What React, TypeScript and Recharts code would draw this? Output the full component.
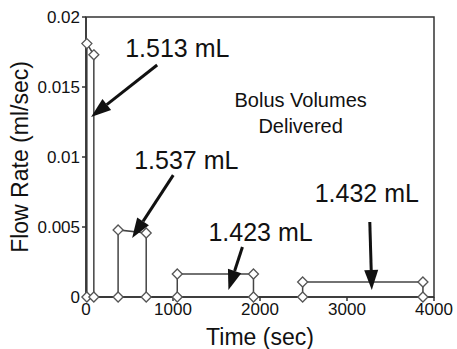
import {
  LineChart,
  Line,
  XAxis,
  YAxis,
  ReferenceArea,
  ReferenceLine,
  ReferenceDot,
} from "recharts";

const times = [10, 10, 90, 90, 369, 369, 692, 692, 1049, 1049, 1925, 1925, 2490, 2490, 3873, 3873];
const flows = [0, 0.0181, 0.0173, 0, 0, 0.00479, 0.00457, 0, 0, 0.00164, 0.00164, 0, 0, 0.00107, 0.00107, 0];

const xTicks = [0, 1000, 2000, 3000, 4000];
const yTicks = [0, 0.005, 0.01, 0.015, 0.02];

// label text position (data coords) and arrow start/end
const labels = ["1.513 mL", "1.537 mL", "1.423 mL", "1.432 mL"];
const labelX = [1049, 1153, 2006, 3228];
const labelY = [0.01779, 0.00979, 0.00464, 0.00743];
const arrowFromX = [818, 1003, 1798, 3262];
const arrowFromY = [0.01657, 0.00871, 0.00357, 0.00536];
const arrowToX = [58, 530, 1637, 3285];
const arrowToY = [0.01286, 0.00421, 0.0005, 0.0005];

const noteLines = ["Bolus Volumes", "Delivered"];
const noteX = [2467, 2467];
const noteY = [0.01407, 0.01221];

const data = times.map((t, i) => ({ time: t, flow: flows[i] }));

const FONT = '"Liberation Sans", Arial, Helvetica, sans-serif';
const INK = "#111";

const Diamond = (props: any) => {
  const { cx, cy, index } = props;
  if (cx == null || cy == null) return null;
  const r = 5;
  return (
    <path
      key={`d-${index}`}
      d={`M${cx},${cy - r}L${cx + r},${cy}L${cx},${cy + r}L${cx - r},${cy}Z`}
      fill="#fff"
      stroke="#555"
      strokeWidth={1.3}
    />
  );
};

const Arrow = (props: any) => {
  const { x1, y1, x2, y2 } = props;
  if ([x1, y1, x2, y2].some((v) => v == null || isNaN(v))) return null;
  const dx = x2 - x1;
  const dy = y2 - y1;
  const len = Math.sqrt(dx * dx + dy * dy);
  const ux = dx / len;
  const uy = dy / len;
  const head = 20;
  const half = 7;
  const bx = x2 - ux * head;
  const by = y2 - uy * head;
  return (
    <g>
      <line x1={x1} y1={y1} x2={bx} y2={by} stroke={INK} strokeWidth={3} />
      <polygon
        points={`${x2},${y2} ${bx - uy * half},${by + ux * half} ${bx + uy * half},${by - ux * half}`}
        fill={INK}
      />
    </g>
  );
};

const textShape = (value: string, size: number) => (props: any) => {
  const { cx, cy } = props;
  return (
    <text x={cx} y={cy} dy="0.36em" textAnchor="middle" fontSize={size} fill={INK} fontFamily={FONT}>
      {value}
    </text>
  );
};

const YTitle = (props: any) => {
  const { viewBox } = props;
  const cy = viewBox.y + viewBox.height / 2;
  return (
    <text
      x={20}
      y={cy}
      dy="0.36em"
      transform={`rotate(-90, 20, ${cy})`}
      textAnchor="middle"
      fontSize={23}
      fill={INK}
      fontFamily={FONT}
    >
      Flow Rate (ml/sec)
    </text>
  );
};

const XTitle = (props: any) => {
  const { viewBox } = props;
  const cx = viewBox.x + viewBox.width / 2;
  return (
    <text x={cx} y={337} dy="0.36em" textAnchor="middle" fontSize={23} fill={INK} fontFamily={FONT}>
      Time (sec)
    </text>
  );
};

export default function App() {
  return (
    <div style={{ position: "absolute", left: 0, top: 0, background: "#fff", fontFamily: FONT }}>
      <LineChart width={457} height={349} data={data} margin={{ top: 17, right: 23, left: 0, bottom: 0 }}>
        <XAxis
          dataKey="time"
          type="number"
          domain={[0, 4000]}
          ticks={xTicks}
          height={52}
          stroke="#333"
          strokeWidth={1.5}
          tickSize={4}
          tick={{ fontSize: 17, fill: INK, fontFamily: FONT }}
          label={<XTitle />}
        />
        <YAxis
          type="number"
          domain={[0, 0.02]}
          ticks={yTicks}
          width={86}
          stroke="#333"
          strokeWidth={1.5}
          tickSize={4}
          tick={{ fontSize: 17, fill: INK, fontFamily: FONT }}
          label={<YTitle />}
        />
        <ReferenceArea x1={0} x2={4000} y1={0} y2={0.02} fill="none" stroke="#333" strokeWidth={1.5} />
        <Line
          dataKey="flow"
          type="linear"
          stroke="#444"
          strokeWidth={1.5}
          dot={<Diamond />}
          isAnimationActive={false}
        />
        {labels.map((_, i) => (
          <ReferenceLine
            key={`a-${i}`}
            segment={[
              { x: arrowFromX[i], y: arrowFromY[i] },
              { x: arrowToX[i], y: arrowToY[i] },
            ]}
            shape={<Arrow />}
          />
        ))}
        {labels.map((l, i) => (
          <ReferenceDot key={`l-${i}`} x={labelX[i]} y={labelY[i]} r={0} shape={textShape(l, 25)} />
        ))}
        {noteLines.map((l, i) => (
          <ReferenceDot key={`n-${i}`} x={noteX[i]} y={noteY[i]} r={0} shape={textShape(l, 20)} />
        ))}
      </LineChart>
    </div>
  );
}
